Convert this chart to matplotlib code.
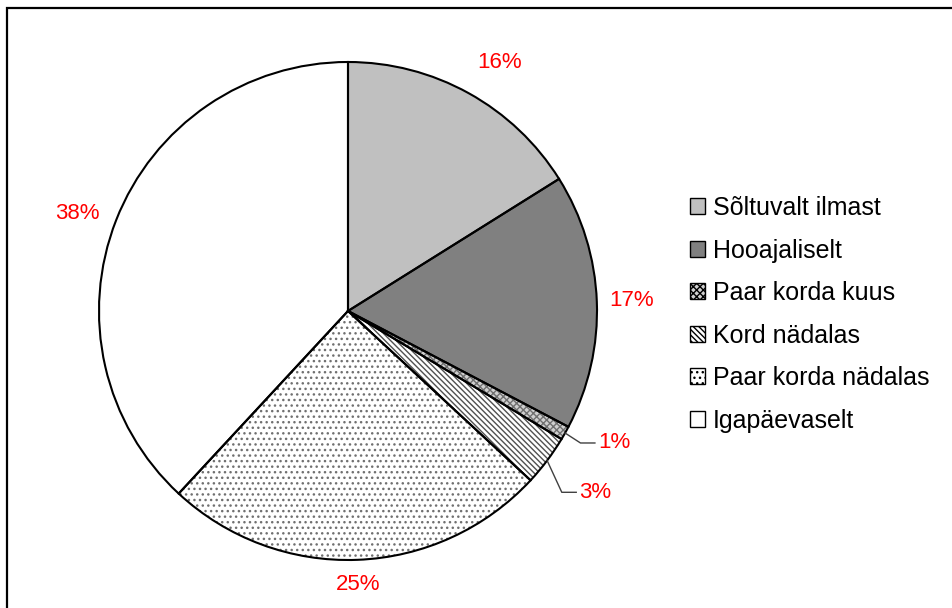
import matplotlib
matplotlib.use('Agg')
import matplotlib.pyplot as plt
from matplotlib.patches import Patch, Rectangle
import numpy as np

plt.rcParams['font.family'] = ['Liberation Sans', 'DejaVu Sans']
plt.rcParams['hatch.linewidth'] = 1.0

categories = ['Sõltuvalt ilmast', 'Hooajaliselt', 'Paar korda kuus',
              'Kord nädalas', 'Paar korda nädalas', 'Igapäevaselt']
shares = [16.1, 16.6, 0.9, 3.3, 25.0, 38.1]

faces = ['#c0c0c0', '#808080', '#d0d0d0', 'white', 'white', 'white']
hatches = [None, None, 'xxxxx', '\\\\\\\\\\\\', '...', None]
hatch_cols = ['#c0c0c0', '#808080', '#707070', '#505050', '#707070', 'white']

# label distance from centre (in radii) and angle shift for each slice
label_r = [1.168, 1.14, 1.135, 1.18, 1.10, 1.155]
label_dang = [-2.5, 0, 1.5, -1.2, 0, 1.6]

W, H = 952, 608
fig = plt.figure(figsize=(W / 100, H / 100), dpi=100)
cx, cy, R = 348, 311, 249
ax = fig.add_axes([(cx - R) / W, (H - cy - R) / H, 2 * R / W, 2 * R / H])

wedges, _ = ax.pie(shares, colors=faces, startangle=90, counterclock=False,
                   wedgeprops=dict(linewidth=0))
for w, h, hc in zip(wedges, hatches, hatch_cols):
    w.set_edgecolor(hc)
    if h:
        w.set_hatch(h)

ax.pie(shares, colors=['none'] * len(shares), startangle=90, counterclock=False,
       wedgeprops=dict(linewidth=1.5, edgecolor='black', fill=False))
ax.set_xlim(-1, 1)
ax.set_ylim(-1, 1)

for i, (w, s) in enumerate(zip(wedges, shares)):
    mid = np.deg2rad((w.theta1 + w.theta2) / 2)
    ang = mid + np.deg2rad(label_dang[i])
    tx, ty = label_r[i] * np.cos(ang), label_r[i] * np.sin(ang)
    txt = '%.0f%%' % s
    if i in (2, 3):
        ex, ey = np.cos(mid), np.sin(mid)
        ax.plot([ex, tx - 0.07, tx - 0.012], [ey, ty, ty], color='#404040',
                lw=1.0, clip_on=False)
        ax.text(tx, ty, txt, color='#ff0000', fontsize=16, ha='left',
                va='center', clip_on=False)
    else:
        ax.text(tx, ty, txt, color='#ff0000', fontsize=16, ha='center',
                va='center', clip_on=False)

handles = [Patch(facecolor=f, edgecolor='black', hatch=h, linewidth=1.0)
           for f, h in zip(faces, hatches)]
fig.legend(handles, categories, loc='upper left',
           bbox_to_anchor=(690 / W, 1 - 196 / H), frameon=False, fontsize=18,
           handlelength=0.6, handleheight=0.6, handletextpad=0.32,
           labelspacing=0.74, borderaxespad=0, borderpad=0)

fig.add_artist(Rectangle((7 / W, -0.05), 1.1, 1 - 8 / H + 0.05, fill=False,
                         edgecolor='black', linewidth=1.6,
                         transform=fig.transFigure))

fig.savefig('out.png', dpi=100, facecolor='white')
